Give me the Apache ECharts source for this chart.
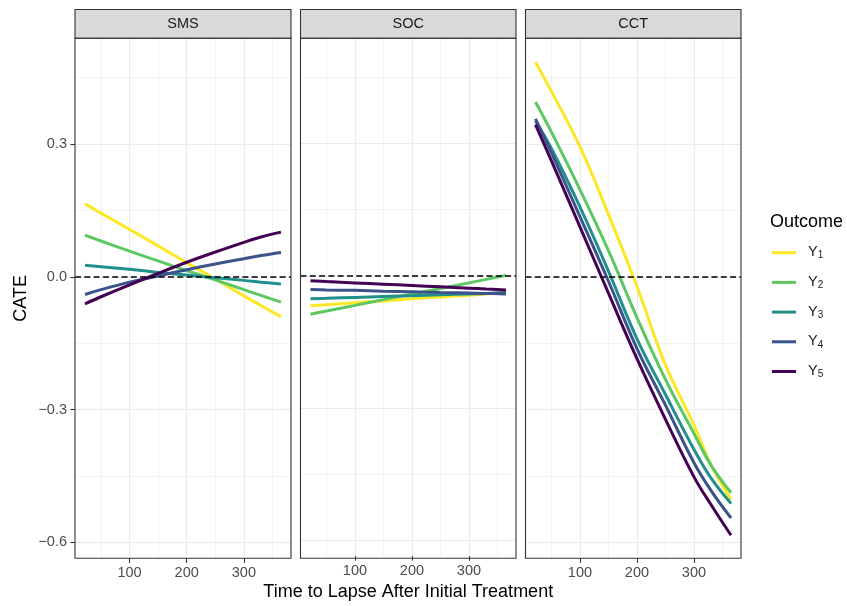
<!DOCTYPE html>
<html><head><meta charset="utf-8">
<script src="https://cdn.jsdelivr.net/npm/echarts@6/dist/echarts.min.js"></script>
<style>html,body{margin:0;padding:0;background:#fff}#c{width:847px;height:606px}</style>
</head><body><div id="c"></div>
<script>
// ---------- data ----------
const panels = ['SMS', 'SOC', 'CCT'];
const outcomes = ['Y1', 'Y2', 'Y3', 'Y4', 'Y5'];
const xDays = [22, 50, 100, 150, 200, 250, 300, 330, 365];

const smsY1 = [0.165, 0.144, 0.107, 0.070, 0.032, -0.005, -0.043, -0.065, -0.090];
const smsY2 = [0.094, 0.081, 0.058, 0.036, 0.014, -0.007, -0.029, -0.042, -0.057];
const smsY3 = [0.026, 0.023, 0.017, 0.010, 0.004, -0.002, -0.008, -0.012, -0.016];
const smsY4 = [-0.040, -0.029, -0.012, 0.002, 0.016, 0.029, 0.041, 0.048, 0.055];
const smsY5 = [-0.061, -0.045, -0.018, 0.008, 0.033, 0.056, 0.078, 0.090, 0.101];

const socY1 = [-0.068, -0.0655, -0.061, -0.057, -0.052, -0.048, -0.044, -0.041, -0.038];
const socY2 = [-0.087, -0.080, -0.067, -0.054, -0.041, -0.029, -0.016, -0.008, 0.001];
const socY3 = [-0.052, -0.051, -0.049, -0.047, -0.045, -0.043, -0.041, -0.040, -0.038];
const socY4 = [-0.031, -0.032, -0.033, -0.035, -0.036, -0.038, -0.039, -0.040, -0.041];
const socY5 = [-0.011, -0.013, -0.016, -0.019, -0.022, -0.025, -0.028, -0.030, -0.032];

const cctY1 = [0.485, 0.419, 0.294, 0.141, -0.022, -0.199, -0.335, -0.425, -0.503];
const cctY2 = [0.395, 0.327, 0.197, 0.059, -0.092, -0.232, -0.354, -0.426, -0.488];
const cctY3 = [0.352, 0.290, 0.158, 0.013, -0.140, -0.266, -0.390, -0.455, -0.512];
const cctY4 = [0.357, 0.280, 0.136, -0.010, -0.162, -0.290, -0.420, -0.483, -0.545];
const cctY5 = [0.344, 0.262, 0.113, -0.037, -0.185, -0.322, -0.452, -0.515, -0.584];

const xTicks = [100, 200, 300];
const xMinorTicks = [50, 150, 250, 350];
const yTicks = [-0.6, -0.3, 0, 0.3];
const yMinorTicks = [-0.45, -0.15, 0.15, 0.45];

const panelData = [
  [smsY1, smsY2, smsY3, smsY4, smsY5],
  [socY1, socY2, socY3, socY4, socY5],
  [cctY1, cctY2, cctY3, cctY4, cctY5]
];

// ---------- styling ----------
const colors = ['#FDE725', '#5DC863', '#21908C', '#3B528B', '#440154'];
const FONT = '"Liberation Sans", Arial, Helvetica, sans-serif';
const X_MIN = 4.5, X_MAX = 382.5;
const Y_MIN = -0.636, Y_MAX = 0.539;
const boxes = [{left: 75, width: 216}, {left: 300.5, width: 215.5}, {left: 525.5, width: 215.5}];
const TOP = 38.3, H = 520;
const STRIP_TOP = 9.5;

const chart = echarts.init(document.getElementById('c'), null, {renderer: 'canvas'});

const grids = boxes.map(b => ({left: b.left, top: TOP, width: b.width, height: H, show: false, containLabel: false}));

const xAxes = [], yAxes = [];
boxes.forEach((b, i) => {
  const major = {
    type: 'value', gridIndex: i, min: X_MIN, max: X_MAX, position: 'bottom',
    axisLine: {show: false, onZero: false},
    axisTick: {show: true, customValues: xTicks, length: 4.6, lineStyle: {color: '#333333', width: 1.1}},
    axisLabel: {show: true, customValues: xTicks, margin: 7, color: '#4D4D4D', fontSize: 14.5, fontFamily: FONT},
    splitLine: {show: true, lineStyle: {color: '#EBEBEB', width: 1.2}}
  };
  if (i === 1) {
    major.name = 'Time to Lapse After Initial Treatment';
    major.nameLocation = 'middle';
    major.nameGap = 26;
    major.nameTextStyle = {color: '#000000', fontSize: 18, fontFamily: FONT};
  }
  xAxes.push(major);
  xAxes.push({
    type: 'value', gridIndex: i, min: X_MIN, max: X_MAX, position: 'top',
    axisLine: {show: false, onZero: false},
    axisTick: {show: false, customValues: xMinorTicks},
    axisLabel: {show: false, customValues: xMinorTicks},
    splitLine: {show: true, lineStyle: {color: '#EBEBEB', width: 0.6}}
  });
  const ymaj = {
    type: 'value', gridIndex: i, min: Y_MIN, max: Y_MAX, position: 'left',
    axisLine: {show: false, onZero: false},
    axisTick: {show: i === 0, customValues: yTicks, length: 4.6, lineStyle: {color: '#333333', width: 1.1}},
    axisLabel: {show: i === 0, customValues: yTicks, margin: 8, color: '#4D4D4D', fontSize: 14.5, fontFamily: FONT,
      formatter: v => (v < 0 ? '\u2212' : '') + Math.abs(v).toFixed(1)},
    splitLine: {show: true, lineStyle: {color: '#EBEBEB', width: 1.2}}
  };
  if (i === 0) {
    ymaj.name = 'CATE';
    ymaj.nameLocation = 'middle';
    ymaj.nameGap = 45;
    ymaj.nameTextStyle = {color: '#000000', fontSize: 18, fontFamily: FONT};
  }
  yAxes.push(ymaj);
  yAxes.push({
    type: 'value', gridIndex: i, min: Y_MIN, max: Y_MAX, position: 'right',
    axisLine: {show: false, onZero: false},
    axisTick: {show: false, customValues: yMinorTicks},
    axisLabel: {show: false, customValues: yMinorTicks},
    splitLine: {show: true, lineStyle: {color: '#EBEBEB', width: 0.6}}
  });
});

const series = [];
panelData.forEach((arrs, i) => {
  arrs.forEach((vals, k) => {
    const s = {
      type: 'line', name: outcomes[k], xAxisIndex: 2 * i, yAxisIndex: 2 * i,
      data: xDays.map((x, j) => [x, vals[j]]),
      symbol: 'none', smooth: 0.4,
      lineStyle: {color: colors[k], width: 3},
      itemStyle: {color: colors[k]},
      emphasis: {disabled: true}, silent: true, z: 2 + k * 0.01
    };
    if (k === 4) {
      s.markLine = {
        silent: true, symbol: ['none', 'none'], label: {show: false},
        lineStyle: {color: '#000000', width: 1.6, type: [6, 3.3]},
        emphasis: {disabled: true},
        data: [{yAxis: 0}]
      };
    }
    series.push(s);
  });
});

const graphics = [];
boxes.forEach((b, i) => {
  graphics.push({
    type: 'rect', z: 100, silent: true,
    shape: {x: b.left, y: STRIP_TOP, width: b.width, height: TOP - STRIP_TOP},
    style: {fill: '#D9D9D9', stroke: '#333333', lineWidth: 1.1}
  });
  graphics.push({
    type: 'text', z: 101, silent: true,
    style: {text: panels[i], x: b.left + b.width / 2, y: (STRIP_TOP + TOP) / 2 + 0.5, align: 'center', verticalAlign: 'middle',
      fill: '#1A1A1A', font: '14.5px ' + FONT}
  });
  graphics.push({
    type: 'rect', z: 100, silent: true,
    shape: {x: b.left, y: TOP, width: b.width, height: H},
    style: {fill: 'none', stroke: '#333333', lineWidth: 1.1}
  });
});
graphics.push({
  type: 'text', z: 101, silent: true,
  style: {text: 'Outcome', x: 770, y: 221.7, align: 'left', verticalAlign: 'middle', fill: '#000000', font: '18px ' + FONT}
});

chart.setOption({
  animation: false,
  backgroundColor: '#ffffff',
  grid: grids,
  xAxis: xAxes,
  yAxis: yAxes,
  legend: {
    data: outcomes, orient: 'vertical', left: 772, top: 244.7, padding: 0,
    icon: 'rect', itemWidth: 24, itemHeight: 3, itemGap: 13.7,
    selectedMode: false,
    formatter: name => '{y|Y}{s|' + name.slice(1) + '}',
    textStyle: {
      fontFamily: FONT, color: '#000000',
      rich: {
        y: {fontSize: 14.5, fontFamily: FONT, color: '#1A1A1A', padding: [0, 0, 0, 7], lineHeight: 16, verticalAlign: 'top'},
        s: {fontSize: 10, fontFamily: FONT, color: '#1A1A1A', padding: [6, 0, 0, 0], lineHeight: 16, verticalAlign: 'top'}
      }
    }
  },
  graphic: graphics,
  series: series
});
</script></body></html>
